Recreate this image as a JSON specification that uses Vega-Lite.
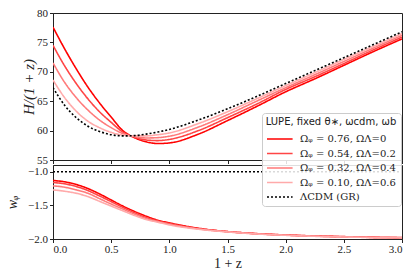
{
  "$schema": "https://vega.github.io/schema/vega-lite/v6.json",
  "padding": {"left": 5, "top": 6, "right": 7, "bottom": 9},
  "background": "white",
  "bounds": "flush",
  "spacing": 5,
  "config": {
    "view": {"stroke": "#222", "strokeWidth": 1},
    "axis": {"labelFont": "Liberation Serif", "labelFontSize": 11, "labelColor": "#222", "titleFont": "Liberation Serif", "titleFontWeight": "normal", "titleColor": "#222", "domainColor": "#222", "tickColor": "#222", "grid": false, "tickSize": 3.5, "labelPadding": 2},
    "line": {"strokeWidth": 1.6}
  },
  "datasets": {
    "H": [
      {"m":"a","x":0,"v":77.6},{"m":"a","x":0.1,"v":73.9},{"m":"a","x":0.2,"v":70.5},{"m":"a","x":0.3,"v":67.4},{"m":"a","x":0.4,"v":64.7},{"m":"a","x":0.5,"v":62.3},{"m":"a","x":0.6,"v":60.0},{"m":"a","x":0.7,"v":58.8},{"m":"a","x":0.8,"v":58.1},{"m":"a","x":0.9,"v":57.8},{"m":"a","x":1.0,"v":57.9},{"m":"a","x":1.25,"v":59.4},{"m":"a","x":1.5,"v":61.7},{"m":"a","x":1.75,"v":64.1},{"m":"a","x":2.0,"v":66.6},{"m":"a","x":2.25,"v":68.8},{"m":"a","x":2.5,"v":71.1},{"m":"a","x":2.75,"v":73.4},{"m":"a","x":3.0,"v":75.6},
      {"m":"b","x":0,"v":74.5},{"m":"b","x":0.1,"v":71.0},{"m":"b","x":0.2,"v":68.0},{"m":"b","x":0.3,"v":65.4},{"m":"b","x":0.4,"v":63.2},{"m":"b","x":0.5,"v":61.4},{"m":"b","x":0.6,"v":59.75},{"m":"b","x":0.7,"v":58.9},{"m":"b","x":0.8,"v":58.4},{"m":"b","x":0.9,"v":58.3},{"m":"b","x":1.0,"v":58.5},{"m":"b","x":1.25,"v":60.0},{"m":"b","x":1.5,"v":62.2},{"m":"b","x":1.75,"v":64.5},{"m":"b","x":2.0,"v":67.0},{"m":"b","x":2.25,"v":69.15},{"m":"b","x":2.5,"v":71.4},{"m":"b","x":2.75,"v":73.7},{"m":"b","x":3.0,"v":75.9},
      {"m":"c","x":0,"v":71.5},{"m":"c","x":0.1,"v":68.2},{"m":"c","x":0.2,"v":65.6},{"m":"c","x":0.3,"v":63.5},{"m":"c","x":0.4,"v":61.8},{"m":"c","x":0.5,"v":60.5},{"m":"c","x":0.6,"v":59.5},{"m":"c","x":0.7,"v":59.0},{"m":"c","x":0.8,"v":58.75},{"m":"c","x":0.9,"v":58.8},{"m":"c","x":1.0,"v":59.05},{"m":"c","x":1.25,"v":60.6},{"m":"c","x":1.5,"v":62.7},{"m":"c","x":1.75,"v":65.0},{"m":"c","x":2.0,"v":67.3},{"m":"c","x":2.25,"v":69.5},{"m":"c","x":2.5,"v":71.75},{"m":"c","x":2.75,"v":74.0},{"m":"c","x":3.0,"v":76.2},
      {"m":"d","x":0,"v":68.6},{"m":"d","x":0.1,"v":65.6},{"m":"d","x":0.2,"v":63.3},{"m":"d","x":0.3,"v":61.6},{"m":"d","x":0.4,"v":60.5},{"m":"d","x":0.5,"v":59.7},{"m":"d","x":0.6,"v":59.25},{"m":"d","x":0.7,"v":59.1},{"m":"d","x":0.8,"v":59.1},{"m":"d","x":0.9,"v":59.3},{"m":"d","x":1.0,"v":59.6},{"m":"d","x":1.25,"v":61.2},{"m":"d","x":1.5,"v":63.2},{"m":"d","x":1.75,"v":65.4},{"m":"d","x":2.0,"v":67.65},{"m":"d","x":2.25,"v":69.85},{"m":"d","x":2.5,"v":72.1},{"m":"d","x":2.75,"v":74.3},{"m":"d","x":3.0,"v":76.5},
      {"m":"e","x":0,"v":67.3},{"m":"e","x":0.1,"v":64.3},{"m":"e","x":0.2,"v":62.2},{"m":"e","x":0.3,"v":60.75},{"m":"e","x":0.4,"v":59.85},{"m":"e","x":0.5,"v":59.3},{"m":"e","x":0.6,"v":59.1},{"m":"e","x":0.7,"v":59.15},{"m":"e","x":0.8,"v":59.4},{"m":"e","x":0.9,"v":59.75},{"m":"e","x":1.0,"v":60.2},{"m":"e","x":1.25,"v":61.8},{"m":"e","x":1.5,"v":63.7},{"m":"e","x":1.75,"v":65.8},{"m":"e","x":2.0,"v":68.0},{"m":"e","x":2.25,"v":70.2},{"m":"e","x":2.5,"v":72.4},{"m":"e","x":2.75,"v":74.6},{"m":"e","x":3.0,"v":76.8}
    ],
    "W": [
      {"m":"a","x":0,"w":-1.13},{"m":"a","x":0.1,"w":-1.15},{"m":"a","x":0.2,"w":-1.19},{"m":"a","x":0.3,"w":-1.25},{"m":"a","x":0.4,"w":-1.33},{"m":"a","x":0.5,"w":-1.42},{"m":"a","x":0.6,"w":-1.51},{"m":"a","x":0.7,"w":-1.59},{"m":"a","x":0.8,"w":-1.66},{"m":"a","x":0.9,"w":-1.72},{"m":"a","x":1.0,"w":-1.76},{"m":"a","x":1.25,"w":-1.84},{"m":"a","x":1.5,"w":-1.89},{"m":"a","x":1.75,"w":-1.92},{"m":"a","x":2.0,"w":-1.94},{"m":"a","x":2.25,"w":-1.955},{"m":"a","x":2.5,"w":-1.965},{"m":"a","x":2.75,"w":-1.975},{"m":"a","x":3.0,"w":-1.98},
      {"m":"b","x":0,"w":-1.16},{"m":"b","x":0.1,"w":-1.18},{"m":"b","x":0.2,"w":-1.22},{"m":"b","x":0.3,"w":-1.28},{"m":"b","x":0.4,"w":-1.36},{"m":"b","x":0.5,"w":-1.445},{"m":"b","x":0.6,"w":-1.53},{"m":"b","x":0.7,"w":-1.61},{"m":"b","x":0.8,"w":-1.68},{"m":"b","x":0.9,"w":-1.73},{"m":"b","x":1.0,"w":-1.77},{"m":"b","x":1.25,"w":-1.845},{"m":"b","x":1.5,"w":-1.89},{"m":"b","x":1.75,"w":-1.922},{"m":"b","x":2.0,"w":-1.942},{"m":"b","x":2.25,"w":-1.957},{"m":"b","x":2.5,"w":-1.967},{"m":"b","x":2.75,"w":-1.976},{"m":"b","x":3.0,"w":-1.981},
      {"m":"c","x":0,"w":-1.21},{"m":"c","x":0.1,"w":-1.23},{"m":"c","x":0.2,"w":-1.27},{"m":"c","x":0.3,"w":-1.32},{"m":"c","x":0.4,"w":-1.40},{"m":"c","x":0.5,"w":-1.48},{"m":"c","x":0.6,"w":-1.555},{"m":"c","x":0.7,"w":-1.63},{"m":"c","x":0.8,"w":-1.695},{"m":"c","x":0.9,"w":-1.74},{"m":"c","x":1.0,"w":-1.78},{"m":"c","x":1.25,"w":-1.85},{"m":"c","x":1.5,"w":-1.892},{"m":"c","x":1.75,"w":-1.923},{"m":"c","x":2.0,"w":-1.943},{"m":"c","x":2.25,"w":-1.958},{"m":"c","x":2.5,"w":-1.968},{"m":"c","x":2.75,"w":-1.977},{"m":"c","x":3.0,"w":-1.982},
      {"m":"d","x":0,"w":-1.27},{"m":"d","x":0.1,"w":-1.29},{"m":"d","x":0.2,"w":-1.32},{"m":"d","x":0.3,"w":-1.37},{"m":"d","x":0.4,"w":-1.44},{"m":"d","x":0.5,"w":-1.51},{"m":"d","x":0.6,"w":-1.58},{"m":"d","x":0.7,"w":-1.65},{"m":"d","x":0.8,"w":-1.71},{"m":"d","x":0.9,"w":-1.75},{"m":"d","x":1.0,"w":-1.79},{"m":"d","x":1.25,"w":-1.855},{"m":"d","x":1.5,"w":-1.895},{"m":"d","x":1.75,"w":-1.925},{"m":"d","x":2.0,"w":-1.945},{"m":"d","x":2.25,"w":-1.96},{"m":"d","x":2.5,"w":-1.97},{"m":"d","x":2.75,"w":-1.978},{"m":"d","x":3.0,"w":-1.983},
      {"m":"e","x":0,"w":-1.0},{"m":"e","x":3.0,"w":-1.0}
    ]
  },
  "resolve": {"scale": {"color": "shared", "strokeDash": "shared"}, "legend": {"color": "shared", "strokeDash": "shared"}},
  "vconcat": [
    {
      "width": 349, "height": 147,
      "data": {"name": "H"},
      "mark": {"type": "line", "interpolate": "monotone", "clip": true},
      "encoding": {
        "x": {"field": "x", "type": "quantitative", "scale": {"domain": [0, 3], "nice": false}, "axis": {"labels": false, "title": null, "values": [0, 0.5, 1, 1.5, 2, 2.5, 3]}},
        "y": {"field": "v", "type": "quantitative", "scale": {"domain": [55, 80], "nice": false, "zero": false}, "axis": {"title": "H/(1 + z)", "values": [55, 60, 65, 70, 75, 80], "titleFontSize": 15, "titleFontStyle": "italic", "titlePadding": 0}},
        "color": {"field": "m", "type": "nominal", "scale": {"domain": ["a", "b", "c", "d", "e"], "range": ["#ff0000", "#ff4545", "#ff7a7a", "#ffaaaa", "#000000"]},
          "legend": {"title": "LUPE, fixed θ∗, ωcdm, ωb", "orient": "none", "legendX": 209, "legendY": 100, "zindex": 1, "symbolType": "M-1,0H2.2", "symbolSize": 256, "symbolStrokeWidth": 2, "labelOffset": 16, "labelFont": "DejaVu Serif", "labelFontSize": 10, "labelColor": "#222", "titleFont": "DejaVu Sans", "titleFontSize": 10, "titleFontWeight": "normal", "titleColor": "#222", "titleAnchor": "middle", "titlePadding": 3, "padding": 4, "fillColor": "rgba(255,255,255,0.85)", "strokeColor": "#cccccc", "cornerRadius": 3, "rowPadding": 0.5, "labelExpr": "datum.label == 'a' ? 'Ωᵩ = 0.76, ΩΛ=0' : datum.label == 'b' ? 'Ωᵩ = 0.54, ΩΛ=0.2' : datum.label == 'c' ? 'Ωᵩ = 0.32, ΩΛ=0.4' : datum.label == 'd' ? 'Ωᵩ = 0.10, ΩΛ=0.6' : 'ΛCDM (GR)'"}},
        "strokeDash": {"field": "m", "type": "nominal", "scale": {"domain": ["a", "b", "c", "d", "e"], "range": [[1, 0], [1, 0], [1, 0], [1, 0], [2, 2]]},
          "legend": {"title": "LUPE, fixed θ∗, ωcdm, ωb", "orient": "none", "legendX": 209, "legendY": 100, "zindex": 1, "symbolType": "M-1,0H2.2", "symbolSize": 256, "symbolStrokeWidth": 2, "labelOffset": 16, "labelFont": "DejaVu Serif", "labelFontSize": 10, "labelColor": "#222", "titleFont": "DejaVu Sans", "titleFontSize": 10, "titleFontWeight": "normal", "titleColor": "#222", "titleAnchor": "middle", "titlePadding": 3, "padding": 4, "fillColor": "rgba(255,255,255,0.85)", "strokeColor": "#cccccc", "cornerRadius": 3, "rowPadding": 0.5, "labelExpr": "datum.label == 'a' ? 'Ωᵩ = 0.76, ΩΛ=0' : datum.label == 'b' ? 'Ωᵩ = 0.54, ΩΛ=0.2' : datum.label == 'c' ? 'Ωᵩ = 0.32, ΩΛ=0.4' : datum.label == 'd' ? 'Ωᵩ = 0.10, ΩΛ=0.6' : 'ΛCDM (GR)'"}}
      }
    },
    {
      "width": 349, "height": 74,
      "data": {"name": "W"},
      "mark": {"type": "line", "interpolate": "monotone", "clip": true},
      "encoding": {
        "x": {"field": "x", "type": "quantitative", "scale": {"domain": [0, 3], "nice": false}, "axis": {"title": "1 + z", "titleFontSize": 14, "titlePadding": 2, "labelPadding": 1, "values": [0, 0.5, 1, 1.5, 2, 2.5, 3], "format": ".1f"}},
        "y": {"field": "w", "type": "quantitative", "scale": {"domain": [-2.0, -0.9], "nice": false, "zero": false}, "axis": {"title": "wᵩ", "values": [-2.0, -1.5, -1.0], "format": ".1f", "titleFontSize": 14, "titleFontStyle": "italic", "titlePadding": 8}},
        "color": {"field": "m", "type": "nominal", "scale": {"domain": ["a", "b", "c", "d", "e"], "range": ["#ff0000", "#ff4545", "#ff7a7a", "#ffaaaa", "#000000"]}},
        "strokeDash": {"field": "m", "type": "nominal", "scale": {"domain": ["a", "b", "c", "d", "e"], "range": [[1, 0], [1, 0], [1, 0], [1, 0], [2, 2]]}}
      }
    }
  ]
}
